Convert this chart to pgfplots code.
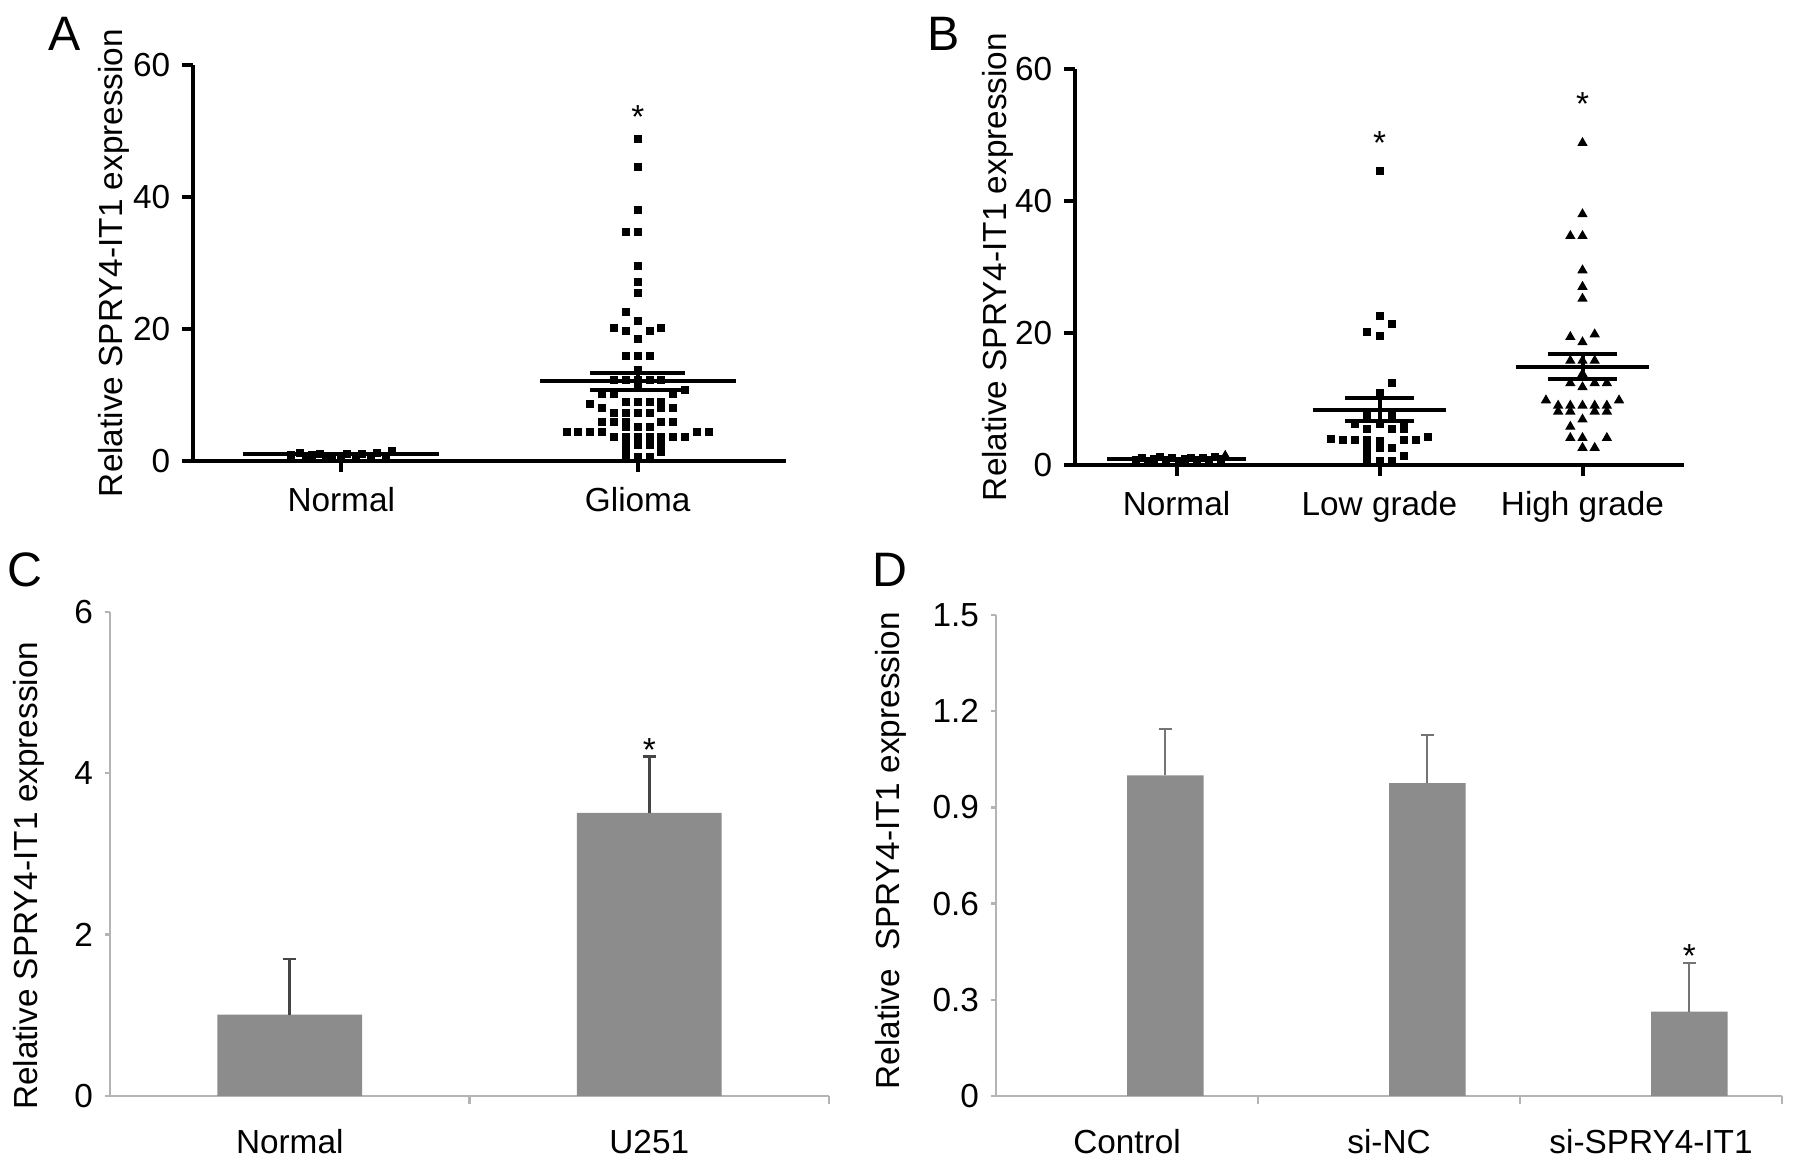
\documentclass[border=0pt]{standalone}
\usepackage{fontspec}
\setmainfont{Liberation Sans}
\usepackage{pgfplots}
\pgfplotsset{compat=1.18}

\definecolor{barg}{HTML}{8C8C8C}
\definecolor{axg}{HTML}{B4B4B4}
\definecolor{errg}{HTML}{454545}

\tikzset{
  star/.style={font=\fontsize{10}{12}\selectfont, yshift=-2.3pt},
  letter/.style={font=\fontsize{14.5}{16}\selectfont},
}
\pgfplotsset{
  base/.style={
    scale only axis, clip=false,
    axis x line*=bottom, axis y line*=left,
    font=\fontsize{10}{12}\selectfont,
    /pgf/number format/assume math mode=true,
    tick align=outside,
  },
  scat/.style={base,
    axis line style={line width=1.2pt,-},
    tick style={line width=1.2pt,black},
    major tick length=3.3pt,
    ymin=0, ymax=60, ytick={0,20,40,60},
    xticklabel style={yshift=-1.2pt},
  },
  bars/.style={base,
    axis line style={line width=0.7pt,axg,-},
    tick style={line width=0.7pt,axg},
    major x tick style={draw=none},
    major y tick style={axg},
    minor tick length=2.5pt, major tick length=1.6pt,
    xticklabel style={yshift=-5pt},
  },
  pts/.style={only marks, mark=square*, mark size=1pt, black},
  tri/.style={only marks, mark=triangle*, mark size=1.4pt, black},
  avg/.style={black, line width=1.2pt, no marks},
}

\begin{document}
\begin{tikzpicture}
\useasboundingbox (0,0) rectangle (538.5pt,349.8pt);

% ---------- A ----------
\begin{axis}[scat,
  at={(57.9pt,211.5pt)}, anchor=south west,
  width=177.9pt, height=118.8pt,
  xmin=0.5, xmax=2.5,
  xtick={1,2}, xticklabels={Normal,Glioma},
  ylabel={Relative SPRY4-IT1 expression},
  every axis y label/.style={at={(axis description cs:-0.133,0.5)}, rotate=90, anchor=center},
]
\addplot[pts] coordinates {
  (0.83,0.9) (0.86,1.2) (0.88,0.6) (0.90,0.9) (0.93,1.1) (0.95,0.5) (0.97,0.8)
  (1.00,0.6) (1.02,1.0) (1.05,0.7) (1.07,1.1) (1.10,0.8) (1.12,1.2) (1.15,0.7) (1.17,1.5)
};
\addplot[pts] coordinates {
  (2,48.8) (2,44.6) (2,38.0) (1.96,34.7) (2,34.7) (2,29.6) (2,27.1) (2,25.4)
  (1.96,22.5) (2,21.2) (1.92,20.2) (2.08,20.2) (1.96,19.7) (2.04,19.7) (2,18.5)
  (1.96,15.9) (2,15.9) (2.04,15.9) (2,13.8)
  (1.92,12.3) (1.96,12.3) (2,12.3) (2.04,12.3) (2.08,12.3) (2,11.6)
  (2.16,10.7) (1.88,10.1) (1.92,10.1) (2.12,10.1)
  (1.96,8.9) (2,8.9) (2.04,8.9) (2.08,8.9) (1.84,8.6)
  (1.88,8.1) (2.08,8.1) (2.12,8.1)
  (1.92,7.3) (1.96,7.3) (2,7.3) (2.04,7.3)
  (1.88,5.9) (1.92,5.9) (1.96,5.9) (2.08,5.9) (2.12,5.9)
  (1.96,5.2) (2,5.2) (2.04,5.2)
  (1.76,4.4) (1.80,4.4) (1.84,4.4) (1.88,4.4) (2.20,4.4) (2.24,4.4)
  (1.92,3.6) (1.96,3.6) (2,3.6) (2.04,3.6) (2.08,3.6) (2.12,3.6) (2.16,3.6)
  (1.96,2.4) (2,2.4) (2.04,2.4) (2.08,2.4)
  (1.96,1.4) (2.08,1.4)
  (1.96,0.6) (2,0.6) (2.04,0.6)
};
% mean and SEM
\addplot[avg] coordinates {(0.67,1.0) (1.33,1.0)};
\addplot[avg] coordinates {(1.67,12.1) (2.33,12.1)};
\addplot[avg] coordinates {(1.84,13.3) (2.16,13.3)};
\addplot[avg] coordinates {(1.84,10.8) (2.16,10.8)};
\addplot[avg] coordinates {(2,10.8) (2,13.3)};
\node[star] at (axis cs:2,53.2) {*};
\end{axis}

% ---------- B ----------
\begin{axis}[scat,
  at={(322.5pt,210.3pt)}, anchor=south west,
  width=182.7pt, height=118.8pt,
  xmin=0.5, xmax=3.5,
  xtick={1,2,3}, xticklabels={Normal,Low grade,High grade},
  ylabel={Relative SPRY4-IT1 expression},
  every axis y label/.style={at={(axis description cs:-0.126,0.5)}, rotate=90, anchor=center},
]
\addplot[pts] coordinates {
  (0.80,0.8) (0.83,1.1) (0.86,0.6) (0.89,0.9) (0.92,1.2) (0.95,0.7) (0.98,1.0)
  (1.01,0.6) (1.04,0.9) (1.07,1.1) (1.10,0.7) (1.13,1.0) (1.16,0.8) (1.19,1.2) (1.22,0.9)
};
\addplot[tri] coordinates {(1.24,1.4)};
\addplot[pts] coordinates {
  (2,44.6) (2,22.6) (2.06,21.3) (1.94,20.2) (2,19.6)
  (2.06,12.4) (2,10.9)
  (1.94,7.6) (2.06,7.6)
  (1.88,6.2) (2,6.2) (2.12,6.2)
  (1.94,5.4) (2.06,5.4) (2.12,5.4)
  (2.24,4.2) (1.76,3.9) (1.82,3.8) (1.88,3.8) (1.94,3.8) (2,3.6) (2.12,3.8) (2.18,3.8)
  (1.94,2.5) (2,2.5) (2.06,2.5)
  (1.94,1.4) (2.12,1.4)
  (1.94,0.6) (2,0.6) (2.06,0.6)
};
\addplot[tri] coordinates {
  (3,48.8) (3,38.0) (2.94,34.7) (3,34.7) (3,29.5) (3,27.0) (3,25.2)
  (2.94,19.4) (3,18.6) (3.06,19.8)
  (2.94,15.8) (3,15.8) (3.06,15.8) (3,13.8)
  (2.94,12.4) (3.06,12.4) (3.12,12.4) (3,11.8)
  (2.82,9.8) (3.18,9.8)
  (2.88,9.0) (2.94,9.0) (3,9.0) (3.06,9.0) (3.12,9.0)
  (2.88,8.1) (2.94,8.1) (3.06,8.1) (3.12,8.1)
  (3,6.9) (2.94,5.8)
  (2.94,4.1) (3,4.1) (3.12,4.1)
  (3,2.6) (3.06,2.6)
};
\addplot[avg] coordinates {(0.66,0.9) (1.34,0.9)};
\addplot[avg] coordinates {(1.67,8.4) (2.33,8.4)};
\addplot[avg] coordinates {(1.83,10.2) (2.17,10.2)};
\addplot[avg] coordinates {(1.83,6.6) (2.17,6.6)};
\addplot[avg] coordinates {(2,6.6) (2,10.2)};
\addplot[avg] coordinates {(2.67,14.9) (3.33,14.9)};
\addplot[avg] coordinates {(2.83,16.8) (3.17,16.8)};
\addplot[avg] coordinates {(2.83,13.1) (3.17,13.1)};
\addplot[avg] coordinates {(3,13.1) (3,16.8)};
\node[star] at (axis cs:2,50.0) {*};
\node[star] at (axis cs:3,55.8) {*};
\end{axis}

% ---------- C ----------
\begin{axis}[bars,
  at={(33pt,21pt)}, anchor=south west,
  width=215.7pt, height=145.2pt,
  xmin=0.5, xmax=2.5, ymin=0, ymax=6,
  xtick={1,2}, xticklabels={Normal,U251},
  minor xtick={1.5,2.5},
  ytick={0,2,4,6},
  ylabel={Relative SPRY4-IT1 expression},
  every axis y label/.style={at={(axis description cs:-0.113,0.455)}, rotate=90, anchor=center},
]
\addplot[ybar, bar width=0.403, fill=barg, draw=none,
  error bars/.cd, y dir=plus, y explicit,
  error bar style={line width=0.8pt, errg},
  error mark options={line width=0.8pt, errg, mark size=2pt, rotate=90}]
  coordinates {(1,1.01) +- (0,0.69) (2,3.51) +- (0,0.70)};
\node[star] at (axis cs:2,4.39) {*};
\end{axis}

% ---------- D ----------
% bars sit just right of each category centre, as in the source figure
\begin{axis}[bars,
  at={(298.8pt,21pt)}, anchor=south west,
  width=235.8pt, height=144.3pt,
  xmin=0.5, xmax=3.5, ymin=0, ymax=1.5,
  xtick={1,2,3}, xticklabels={Control,si-NC,si-SPRY4-IT1},
  minor xtick={1.5,2.5,3.5},
  ytick={0,0.3,0.6,0.9,1.2,1.5}, yticklabels={0,0.3,0.6,0.9,1.2,1.5},
  ylabel={Relative\ \ SPRY4-IT1 expression},
  every axis y label/.style={at={(axis description cs:-0.134,0.51)}, rotate=90, anchor=center},
]
\addplot[ybar, bar width=0.292, fill=barg, draw=none,
  error bars/.cd, y dir=plus, y explicit,
  error bar style={line width=0.6pt, errg!75!white},
  error mark options={line width=0.6pt, errg!75!white, mark size=2pt, rotate=90}]
  coordinates {(1.146,1.0) +- (0,0.145) (2.146,0.976) +- (0,0.151) (3.146,0.263) +- (0,0.152)};
\node[star] at (axis cs:3.146,0.46) {*};
\end{axis}

% panel letters
\node[letter] at (19.5pt,339.6pt) {A};
\node[letter] at (283.2pt,339.6pt) {B};
\node[letter] at (7.5pt,178.8pt) {C};
\node[letter] at (267pt,178.8pt) {D};
\end{tikzpicture}
\end{document}
